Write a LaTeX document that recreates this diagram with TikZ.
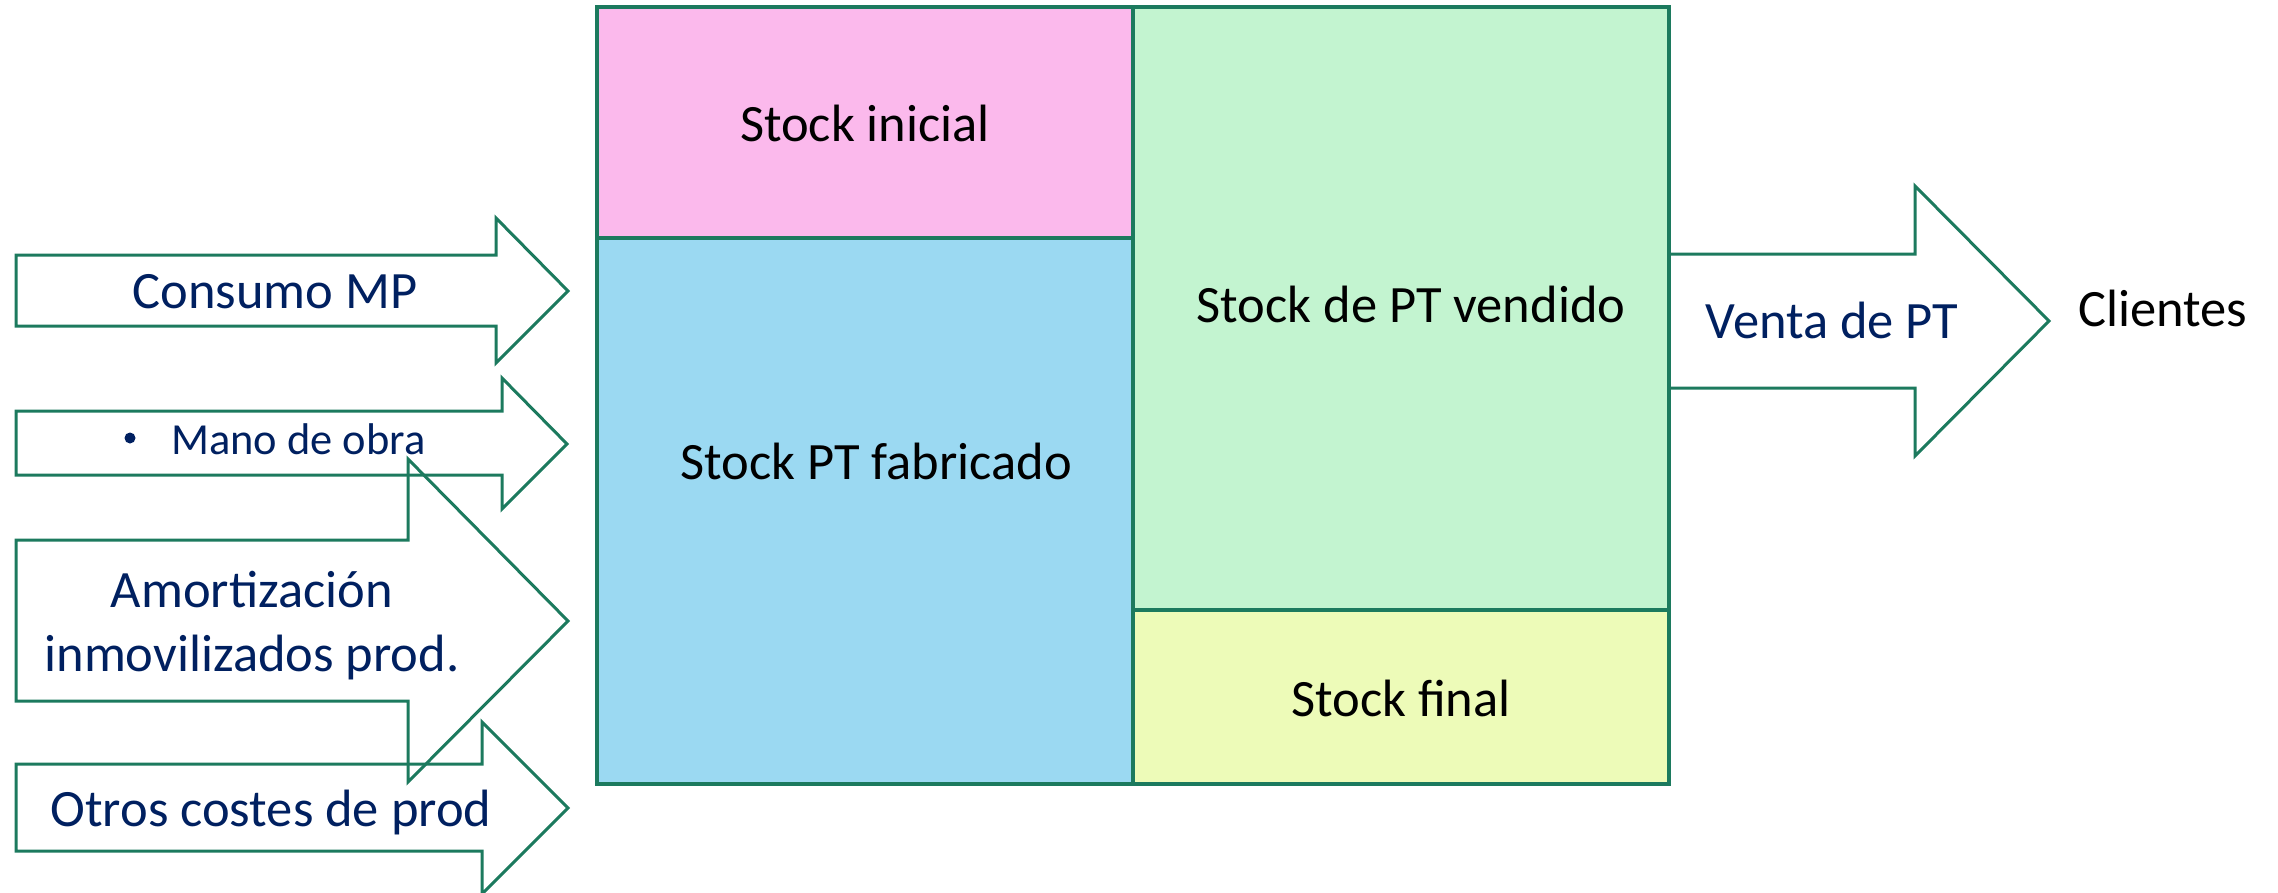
\documentclass[tikz,border=0pt]{standalone}
\usepackage{fontspec}
\setmainfont{Carlito}
\definecolor{edge}{HTML}{1C7A5E}
\definecolor{navy}{HTML}{002060}
\definecolor{pinkfill}{HTML}{FBB9EC}
\definecolor{bluefill}{HTML}{9BD9F2}
\definecolor{greenfill}{HTML}{C3F4D0}
\definecolor{yellowfill}{HTML}{EDFBB8}
\tikzset{
  cell/.style={draw=edge, line width=1.6pt},
  flow/.style={draw=edge, line width=1.5pt, line join=miter},
  lbl/.style={inner sep=0pt, anchor=base, font=\fontsize{26.25}{32}\selectfont},
  flowlbl/.style={lbl, text=navy},
}
\begin{document}
\begin{tikzpicture}[x=0.5pt, y=-0.5pt]
\useasboundingbox (0,0) rectangle (2278,893);

% stock blocks
\filldraw[cell, fill=pinkfill]   (597,7)   rectangle (1133,238);
\filldraw[cell, fill=bluefill]   (597,238) rectangle (1133,784);
\filldraw[cell, fill=greenfill]  (1133,7)  rectangle (1669,610);
\filldraw[cell, fill=yellowfill] (1133,610) rectangle (1669,784);

\node[lbl] (ini)  at (865,142)  {Stock inicial};
\node[lbl] (fab)  at (876,479)  {Stock PT fabricado};
\node[lbl] (vend) at (1411,322) {Stock de PT vendido};
\node[lbl] (fin)  at (1401,716) {Stock final};

% incoming cost flows
\draw[flow] (16,255) -- (496,255) -- (496,218) -- (568,291) -- (496,363) -- (496,326) -- (16,326) -- cycle;
\draw[flow] (16,411) -- (502,411) -- (502,378) -- (567,444) -- (502,509) -- (502,475) -- (16,475) -- cycle;
\draw[flow] (16,540) -- (408,540) -- (408,459) -- (568,621) -- (408,782) -- (408,701) -- (16,701) -- cycle;
\draw[flow] (16,764) -- (482,764) -- (482,722) -- (568,808) -- (482,894) -- (482,851) -- (16,851) -- cycle;

\node[flowlbl] (mp) at (275,308) {Consumo MP};
\node[flowlbl, font=\fontsize{22.2}{27}\selectfont, anchor=base west] (mo) at (171,454) {Mano de obra};
\fill[navy] (130,438) circle (5.5);
\node[flowlbl] (am1) at (252,607) {Amortización};
\node[flowlbl] (am2) at (252,671) {inmovilizados prod.};
\node[flowlbl] (ot)  at (271,826) {Otros costes de prod};

% outgoing sales flow
\draw[flow] (1669,254) -- (1915,254) -- (1915,186) -- (2049,321) -- (1915,456) -- (1915,388) -- (1669,388);
\node[flowlbl] (venta) at (1832,338) {Venta de PT};
\node[lbl, anchor=base west] (cli) at (2078,326) {Clientes};
\end{tikzpicture}
\end{document}
